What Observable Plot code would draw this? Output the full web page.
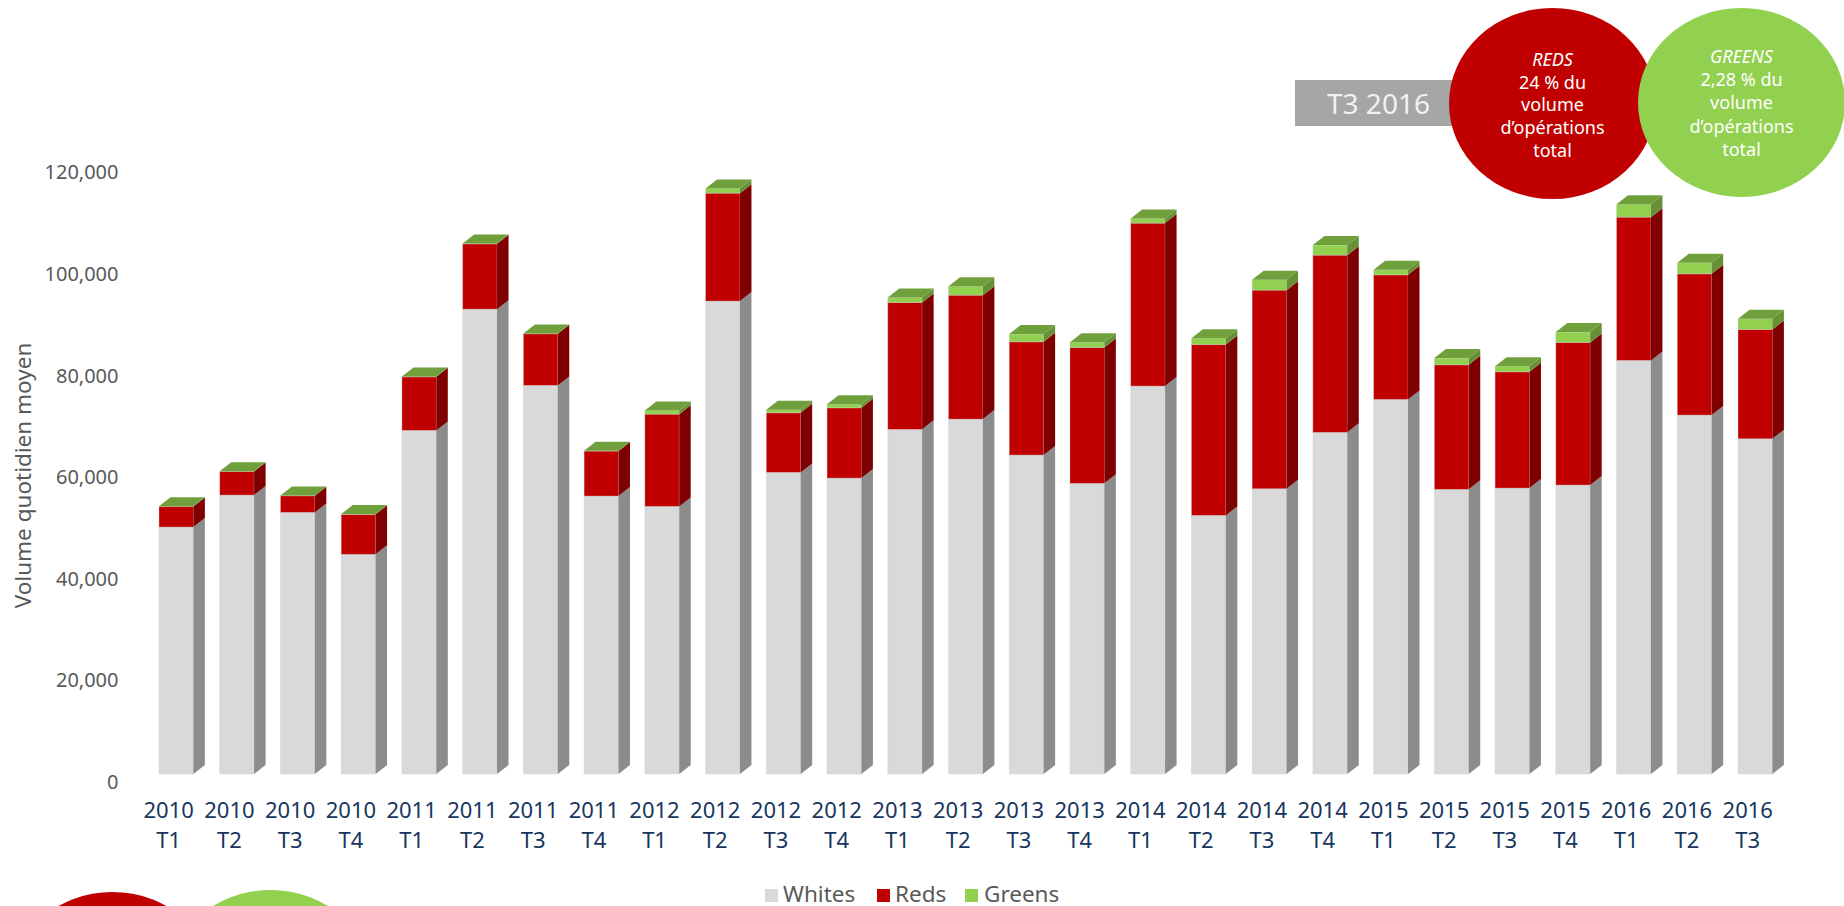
<!DOCTYPE html>
<html lang="fr">
<head>
<meta charset="utf-8">
<title>Volume quotidien moyen</title>
<script src="https://cdn.jsdelivr.net/npm/d3@7"></script>
<script src="https://cdn.jsdelivr.net/npm/@observablehq/plot@0.6"></script>
<style>
  html, body { margin: 0; padding: 0; width: 1844px; height: 906px; overflow: hidden; background: #fff; }
  body { position: relative; font-family: "Noto Sans", sans-serif; }
  #chart svg { display: block; }
  .legend { position: absolute; left: 0; top: 881px; width: 1844px; height: 25px; font-size: 22.5px; line-height: 25px; color: #595959; }
  .legend span { position: absolute; top: 0; white-space: nowrap; }
  .legend i { position: absolute; top: 8px; width: 13px; height: 13px; }
  .disc { position: absolute; border-radius: 50%; color: #fff; }
  .disc div { position: absolute; left: 0; right: 0; text-align: center; font-size: 18px; line-height: 22.7px; }
  .tag { position: absolute; left: 1295px; top: 80px; width: 170px; height: 46px; background: #a6a6a6; color: #f2f2f2; font-size: 28px; line-height: 46px; }
  .tag b { position: absolute; left: 32px; font-weight: 400; white-space: nowrap; }
</style>
</head>
<body>
<div id="chart"></div>
<div class="legend" id="legend"></div>
<div class="tag"><b>T3 2016</b></div>
<div class="disc" style="left:1449px;top:8px;width:207px;height:191px;background:#c00000">
  <div style="top:40px"><em>REDS</em><br>24 % du<br>volume<br>d’opérations<br>total</div>
</div>
<div class="disc" style="left:1638px;top:8px;width:207px;height:189px;background:#92d050">
  <div style="top:37px;line-height:23.2px"><em>GREENS</em><br>2,28 % du<br>volume<br>d’opérations<br>total</div>
</div>
<div class="disc" style="left:9px;top:892px;width:207px;height:191px;background:#c00000"></div>
<div class="disc" style="left:167px;top:890px;width:207px;height:189px;background:#92d050"></div>
<script>
const years = ["2010","2010","2010","2010","2011","2011","2011","2011","2012","2012","2012","2012","2013","2013","2013","2013","2014","2014","2014","2014","2015","2015","2015","2015","2016","2016","2016"];
const quarters = ["T1","T2","T3","T4","T1","T2","T3","T4","T1","T2","T3","T4","T1","T2","T3","T4","T1","T2","T3","T4","T1","T2","T3","T4","T1","T2","T3"];
const whites = [48610,54900,51500,43240,67640,91510,76500,54710,52680,93090,59370,58250,67840,69860,62780,57210,76360,50910,56150,67250,73740,56030,56280,56880,81420,70650,65990];
const reds = [4070,4660,3270,7870,10550,12850,10160,8860,18160,21250,11730,13830,24990,24400,22300,26760,32080,33650,39100,34890,24520,24520,22890,28080,28200,27810,21530];
const greens = [50,50,50,50,50,50,50,50,730,925,590,730,985,1770,1515,1040,925,1240,2030,1970,985,1320,1120,2030,2560,2160,2090];
const seriesNames = ["Whites","Reds","Greens"];
const frontColors = ["#d9d9d9","#c00000","#92d050"];
const sideColors = ["#8c8c8c","#7f0000","#689036"];
const topColor = "#70a03c";
const depthX = 11.5, depthY = 9;

const periods = years.map((y, i) => `${y}\n${quarters[i]}`);
const seriesValues = [whites, reds, greens];
const rows = seriesNames.flatMap((name, s) => periods.map((period, i) => ({period, series: name, value: seriesValues[s][i], s})));

function render3d(index, scales, values, dimensions, context, next) {
  const g = next(index, scales, values, dimensions, context);
  const w = scales.x.bandwidth();
  const ns = "http://www.w3.org/2000/svg";
  const poly = (pts, fill) => {
    const p = document.createElementNS(ns, "polygon");
    p.setAttribute("points", pts.map(d => d.join(",")).join(" "));
    p.setAttribute("fill", fill);
    p.setAttribute("stroke", "none");
    g.appendChild(p);
  };
  for (const i of index) {
    const xl = values.x[i], xr = xl + w, yt = values.y2[i], yb = values.y1[i];
    poly([[xr, yb], [xr + depthX, yb - depthY], [xr + depthX, yt - depthY], [xr, yt]], sideColors[rows[i].s]);
    if (rows[i].s === 2) poly([[xl, yt], [xr, yt], [xr + depthX, yt - depthY], [xl + depthX, yt - depthY]], topColor);
  }
  return g;
}

const chart = Plot.plot({
  width: 1844,
  height: 880,
  marginLeft: 121,
  marginTop: 176,
  marginRight: 0,
  marginBottom: 106,
  style: {fontFamily: '"Noto Sans", sans-serif', background: "transparent"},
  x: {domain: periods, range: [159, 1772.4], paddingInner: 0.434, paddingOuter: 0, align: 0, round: false, label: null},
  y: {domain: [0, 120000], range: [774, 164.4], label: null},
  color: {domain: seriesNames, range: frontColors},
  marks: [
    Plot.barY(rows, Plot.stackY({x: "period", y: "value", fill: "series", stroke: "#cfcfcf", strokeOpacity: 0.45, strokeWidth: 0.8, render: render3d})),
    Plot.axisY({ticks: d3.range(0, 120001, 20000), tickSize: 0, tickPadding: 3, dy: 8, fontSize: 20, color: "#595959", tickFormat: d3.format(","), label: null}),
    Plot.axisX({tickSize: 0, tickPadding: 0, dx: -8, dy: 23, fontSize: 22, lineHeight: 1.34, color: "#17365d", label: null}),
    Plot.text(["Volume quotidien moyen"], {text: d => d, frameAnchor: "left", textAnchor: "middle", rotate: -90, dx: -98, fontSize: 22.5, fill: "#595959"})
  ]
});
document.getElementById("chart").appendChild(chart);

const legend = document.getElementById("legend");
const swatchX = [765, 877, 965], labelX = [783, 895, 984];
seriesNames.forEach((name, i) => {
  const sw = document.createElement("i");
  sw.style.left = swatchX[i] + "px";
  sw.style.background = frontColors[i];
  legend.appendChild(sw);
  const t = document.createElement("span");
  t.style.left = labelX[i] + "px";
  t.textContent = name;
  legend.appendChild(t);
});
</script>
</body>
</html>
